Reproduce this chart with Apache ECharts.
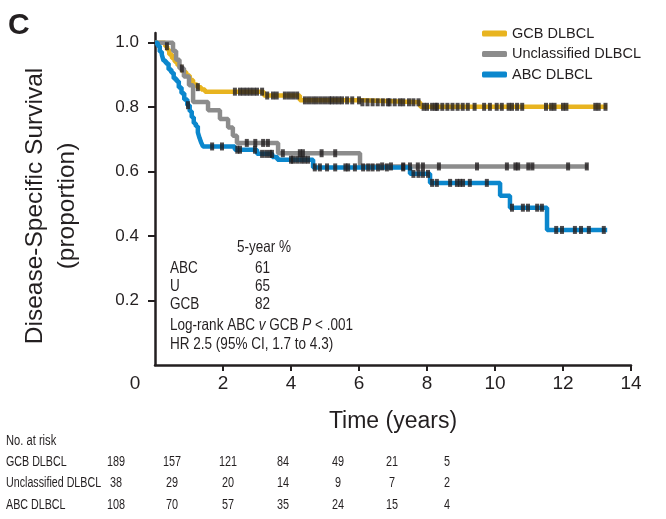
<!DOCTYPE html>
<html><head><meta charset="utf-8">
<script src="https://cdn.jsdelivr.net/npm/echarts@6/dist/echarts.min.js"></script>
<style>html,body{margin:0;padding:0;background:#fff}#c{width:666px;height:519px}</style>
</head><body><div id="c"></div>
<script>
// ---------- data ----------
const seriesNames = ['GCB DLBCL', 'Unclassified DLBCL', 'ABC DLBCL'];
// Kaplan-Meier steps [time (years), survival proportion]
const gcbSteps = [[0,1],[0.3,0.989],[0.36,0.978],[0.42,0.963],[0.5,0.952],[0.58,0.941],[0.66,0.93],[0.74,0.92],[0.82,0.909],[0.92,0.898],[1.02,0.884],[1.12,0.87],[1.24,0.862],[1.36,0.855],[1.47,0.848],[3.2,0.836],[4.26,0.821],[6.09,0.815],[7.8,0.801],[13.3,0.801]];
const uncSteps = [[0,1],[0.53,0.974],[0.62,0.947],[0.72,0.921],[0.85,0.895],[1.0,0.868],[1.12,0.816],[1.56,0.79],[1.91,0.763],[2.15,0.737],[2.29,0.711],[2.41,0.689],[3.62,0.657],[6.03,0.616],[12.74,0.616]];
const abcSteps = [[0,1],[0.08,0.99],[0.14,0.972],[0.2,0.963],[0.25,0.944],[0.32,0.935],[0.4,0.917],[0.48,0.907],[0.55,0.889],[0.63,0.88],[0.7,0.861],[0.78,0.843],[0.86,0.824],[0.95,0.806],[1.02,0.787],[1.08,0.769],[1.14,0.75],[1.2,0.741],[1.26,0.722],[1.31,0.704],[1.36,0.69],[1.41,0.678],[2.35,0.668],[3.0,0.655],[3.45,0.645],[3.6,0.637],[4.65,0.613],[7.5,0.593],[8.09,0.565],[10.15,0.525],[10.44,0.488],[11.53,0.419],[13.3,0.419]];
// censoring times (years)
const gcbCensor = [0.35,0.79,1.26,2.35,2.5,2.6,2.7,2.8,2.9,3.0,3.15,3.3,3.47,3.58,3.82,3.94,4.06,4.18,4.41,4.53,4.65,4.76,4.88,5.0,5.12,5.2,5.3,5.4,5.5,5.65,5.8,6.0,6.1,6.25,6.4,6.55,6.7,6.85,6.9,7.05,7.2,7.3,7.47,7.6,7.75,7.9,8.0,8.15,8.25,8.3,8.45,8.6,8.75,8.9,9.05,9.2,9.4,9.68,9.85,10.05,10.2,10.4,10.5,10.65,10.8,11.5,11.65,11.75,12.0,12.1,12.95,13.05,13.25];
const uncCensor = [2.7,2.95,3.18,3.32,3.76,4.26,4.35,4.9,5.3,6.68,6.94,7.3,7.5,7.73,7.88,8.35,9.47,10.35,10.6,10.68,10.98,11.1,12.15,12.7];
const abcCensor = [0.97,1.68,1.97,2.42,2.5,2.94,3.15,3.27,3.38,3.44,4.0,4.06,4.18,4.3,4.4,4.5,4.7,4.85,5.06,5.3,5.6,5.68,5.88,6.12,6.27,6.4,6.56,6.82,7.3,7.6,7.75,7.88,8.03,8.15,8.29,8.68,8.88,8.97,9.06,9.26,9.76,10.5,10.82,10.97,11.24,11.38,11.8,11.97,12.35,12.53,12.76,13.2];
const xTickValues = [2,4,6,8,10,12,14];
const yTickValues = [0.2,0.4,0.6,0.8,1.0];
const riskGCB = [189,157,121,84,49,21,5];
const riskUnc = [38,29,20,14,9,7,2];
const riskABC = [108,70,57,35,24,15,4];
const riskRowLabels = ['GCB DLBCL','Unclassified DLBCL','ABC DLBCL'];
const fiveYearLabels = ['ABC','U','GCB'];
const fiveYearValues = [61,65,82];

// ---------- styling / layout ----------
const colors = ['#e8b420','#8c8c8c','#0b87cd'];
const ink = '#231f20';
const SANS = '"Liberation Sans", Arial, sans-serif';
const CONDENSE = 0.82;
const riskCols = [116,172,228,283,338,392,447];
const riskRowsY = [462,483,505];

function survAt(steps, t) {
  let s = steps[0][1];
  for (const [tt, v] of steps) { if (tt <= t) s = v; else break; }
  return s;
}
const stepSets = [gcbSteps, uncSteps, abcSteps];
const censorSets = [gcbCensor, uncCensor, abcCensor];

const chart = echarts.init(document.getElementById('c'), null, {renderer: 'canvas'});

const lineOrder = [1, 0, 2];
const series = [];
lineOrder.forEach(i => {
  series.push({
    name: seriesNames[i], type: 'line', step: 'end', symbol: 'none',
    data: stepSets[i], z: 2 + i,
    color: colors[i],
    itemStyle: {color: colors[i]},
    lineStyle: {color: colors[i], width: 4.5},
    emphasis: {disabled: true}, animation: false
  });
});
[0,1,2].forEach(i => {
  series.push({
    name: seriesNames[i] + ' censored', type: 'scatter', symbol: 'rect', symbolSize: [4, 8],
    data: censorSets[i].map(t => [t, survAt(stepSets[i], t)]),
    itemStyle: {color: ink}, z: 10, emphasis: {disabled: true}, animation: false
  });
});

const graphics = [];
function txt(x, y, text, size, opts) {
  opts = opts || {};
  const cond = opts.cond === undefined ? CONDENSE : opts.cond;
  graphics.push({
    type: 'text', x: x, y: y, scaleX: cond, silent: true,
    style: Object.assign({
      text: text, fontFamily: SANS, fontSize: size, fill: ink,
      align: opts.align || 'left', textAlign: opts.align || 'left',
      verticalAlign: 'middle', textVerticalAlign: 'middle',
      fontWeight: opts.weight || 'normal'
    }, opts.extra || {})
  });
}
txt(8, 26, 'C', 30, {weight: 'bold', cond: 1});
txt(135, 384, '0', 19, {align: 'center', cond: 1});
// five-year annotation
txt(237, 247, '5-year %', 16.5);
fiveYearLabels.forEach((lab, k) => {
  txt(170, 268 + k * 18, lab, 16.5);
  txt(255, 268 + k * 18, String(fiveYearValues[k]), 16.5);
});
txt(170, 325, 'Log-rank ABC {i|v} GCB {i|P} < .001', 16.5, {
  extra: {rich: {i: {fontStyle: 'italic', fontFamily: SANS, fontSize: 16.5, fill: ink}}}
});
txt(170, 344, 'HR 2.5 (95% CI, 1.7 to 4.3)', 16.5);
// risk table
txt(6, 441, 'No. at risk', 15.5, {cond: 0.72});
const riskRows = [riskGCB, riskUnc, riskABC];
riskRows.forEach((row, r) => {
  txt(6, riskRowsY[r], riskRowLabels[r], 15.5, {cond: 0.69});
  row.forEach((v, c) => txt(riskCols[c], riskRowsY[r], String(v), 15.5, {align: 'center', cond: 0.7}));
});

chart.setOption({
  animation: false,
  backgroundColor: '#fff',
  grid: {left: 155, top: 33, right: 35, bottom: 154, containLabel: false},
  legend: {
    data: seriesNames, orient: 'vertical', left: 477, top: 21,
    itemWidth: 25, itemHeight: 6, itemGap: 5.5, icon: 'roundRect',
    textStyle: {fontFamily: SANS, fontSize: 14.5, color: ink},
    selectedMode: false
  },
  xAxis: {
    type: 'value', min: 0, max: 14, interval: 2,
    name: 'Time (years)', nameLocation: 'middle', nameGap: 45,
    nameTextStyle: {fontFamily: SANS, fontSize: 23, color: ink},
    axisLine: {lineStyle: {color: ink, width: 2.5}},
    axisTick: {length: 6, lineStyle: {color: ink, width: 2}},
    axisLabel: {showMinLabel: false, fontFamily: SANS, fontSize: 19, color: ink, margin: 9},
    splitLine: {show: false}
  },
  yAxis: {
    type: 'value', min: 0, max: 1.03,
    name: 'Disease-Specific Survival\n(proportion)', nameLocation: 'middle', nameRotate: 90, nameGap: 72,
    nameTextStyle: {fontFamily: SANS, fontSize: 24.5, lineHeight: 32, color: ink, padding: [0, 14, 0, 0]},
    axisLine: {lineStyle: {color: ink, width: 2.5}},
    axisTick: {customValues: yTickValues, length: 7, lineStyle: {color: ink, width: 2}},
    axisLabel: {customValues: yTickValues, formatter: v => v.toFixed(1), fontFamily: SANS, fontSize: 17, color: ink, margin: 16},
    splitLine: {show: false}
  },
  series: series,
  graphic: graphics
});
</script></body></html>
